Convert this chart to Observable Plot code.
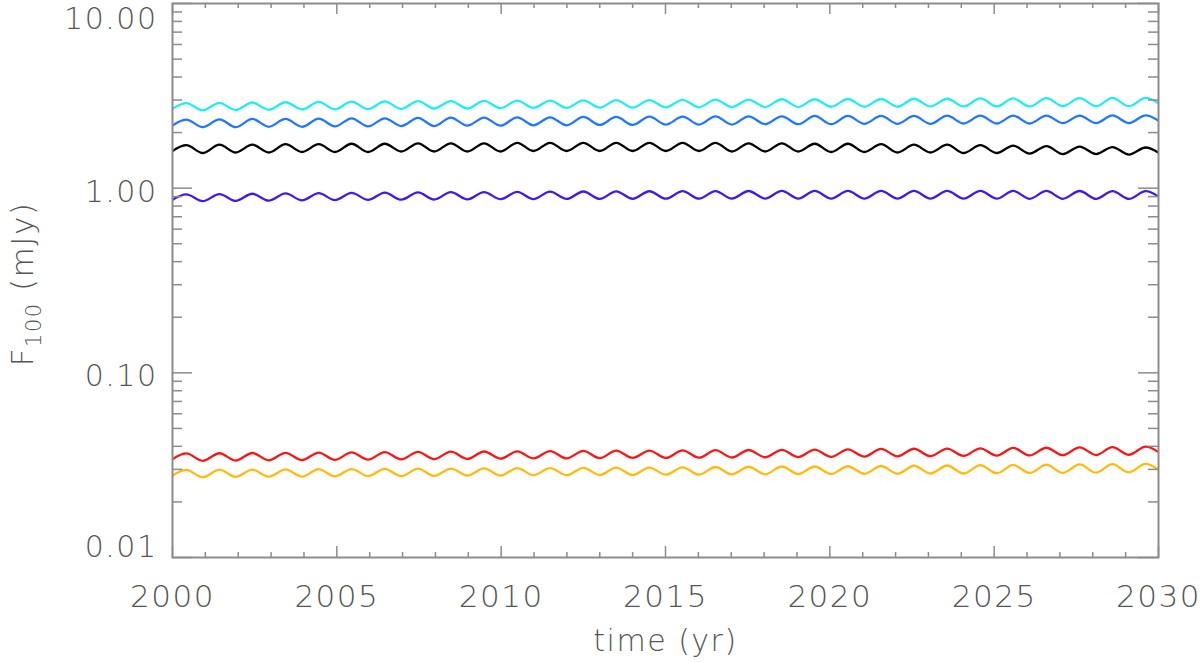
<!DOCTYPE html>
<html>
<head>
<meta charset="utf-8">
<script src="https://cdn.jsdelivr.net/npm/d3@7"></script>
<script src="https://cdn.jsdelivr.net/npm/@observablehq/plot@0.6"></script>
<style>
  html, body { margin: 0; padding: 0; background: #fff; }
</style>
</head>
<body>
<div id="chart"></div>
<script>
// ---- data (flux at successive troughs / peaks) ----
const troughTimes = [1999.91, 2000.92, 2001.92, 2002.93, 2003.94, 2004.94, 2005.95, 2006.96, 2007.96, 2008.97, 2009.98, 2010.98, 2011.99, 2013.00, 2014.00, 2015.01, 2016.02, 2017.02, 2018.03, 2019.04, 2020.04, 2021.05, 2022.06, 2023.06, 2024.07, 2025.08, 2026.08, 2027.09, 2028.10, 2029.10, 2030.11];
const peakTimes = [2000.42, 2001.43, 2002.43, 2003.44, 2004.45, 2005.45, 2006.46, 2007.47, 2008.47, 2009.48, 2010.49, 2011.49, 2012.50, 2013.50, 2014.51, 2015.52, 2016.52, 2017.53, 2018.54, 2019.54, 2020.55, 2021.56, 2022.56, 2023.57, 2024.58, 2025.58, 2026.59, 2027.60, 2028.60, 2029.61];

const cyanTroughs = [2.63, 2.64, 2.65, 2.66, 2.67, 2.67, 2.68, 2.69, 2.70, 2.70, 2.71, 2.72, 2.72, 2.73, 2.73, 2.74, 2.74, 2.75, 2.75, 2.75, 2.76, 2.76, 2.76, 2.77, 2.77, 2.77, 2.77, 2.78, 2.78, 2.78, 2.78];
const cyanPeaks = [2.89, 2.90, 2.91, 2.92, 2.93, 2.94, 2.95, 2.96, 2.96, 2.97, 2.98, 2.98, 2.99, 3.00, 3.00, 3.01, 3.02, 3.02, 3.03, 3.03, 3.04, 3.04, 3.05, 3.05, 3.06, 3.06, 3.07, 3.07, 3.08, 3.08];

const blueTroughs = [2.13, 2.14, 2.14, 2.15, 2.15, 2.16, 2.16, 2.17, 2.17, 2.18, 2.18, 2.19, 2.19, 2.20, 2.20, 2.21, 2.21, 2.21, 2.22, 2.22, 2.22, 2.23, 2.23, 2.23, 2.24, 2.24, 2.24, 2.25, 2.25, 2.25, 2.25];
const bluePeaks = [2.35, 2.36, 2.37, 2.37, 2.38, 2.39, 2.39, 2.40, 2.41, 2.41, 2.42, 2.42, 2.43, 2.43, 2.44, 2.44, 2.45, 2.45, 2.45, 2.46, 2.46, 2.46, 2.46, 2.47, 2.47, 2.47, 2.47, 2.47, 2.48, 2.48];

const blackTroughs = [1.55, 1.55, 1.56, 1.56, 1.57, 1.57, 1.57, 1.58, 1.58, 1.58, 1.58, 1.59, 1.59, 1.59, 1.59, 1.59, 1.59, 1.58, 1.58, 1.58, 1.57, 1.57, 1.56, 1.56, 1.55, 1.55, 1.54, 1.53, 1.53, 1.52, 1.51];
const blackPeaks = [1.71, 1.72, 1.72, 1.73, 1.73, 1.74, 1.74, 1.75, 1.75, 1.75, 1.76, 1.76, 1.76, 1.76, 1.76, 1.76, 1.76, 1.75, 1.75, 1.74, 1.74, 1.73, 1.72, 1.72, 1.71, 1.70, 1.69, 1.68, 1.67, 1.66];

const indigoTroughs = [0.845, 0.850, 0.853, 0.856, 0.859, 0.862, 0.864, 0.866, 0.868, 0.870, 0.872, 0.873, 0.874, 0.875, 0.876, 0.877, 0.877, 0.878, 0.878, 0.878, 0.878, 0.878, 0.878, 0.878, 0.877, 0.877, 0.876, 0.876, 0.875, 0.874, 0.873];
const indigoPeaks = [0.925, 0.929, 0.933, 0.937, 0.940, 0.943, 0.946, 0.949, 0.951, 0.953, 0.955, 0.957, 0.959, 0.961, 0.962, 0.963, 0.964, 0.965, 0.966, 0.966, 0.967, 0.967, 0.967, 0.967, 0.967, 0.966, 0.966, 0.965, 0.964, 0.963];

const redTroughs = [0.0332, 0.0334, 0.0335, 0.0336, 0.0337, 0.0338, 0.0339, 0.0340, 0.0341, 0.0342, 0.0343, 0.0344, 0.0344, 0.0345, 0.0346, 0.0346, 0.0347, 0.0348, 0.0349, 0.0350, 0.0351, 0.0352, 0.0353, 0.0354, 0.0355, 0.0356, 0.0357, 0.0358, 0.0359, 0.0360, 0.0361];
const redPeaks = [0.0366, 0.0367, 0.0368, 0.0369, 0.0370, 0.0371, 0.0372, 0.0373, 0.0374, 0.0375, 0.0376, 0.0377, 0.0378, 0.0379, 0.0379, 0.0380, 0.0381, 0.0382, 0.0383, 0.0384, 0.0385, 0.0387, 0.0388, 0.0389, 0.0390, 0.0392, 0.0393, 0.0395, 0.0396, 0.0398];

const orangeTroughs = [0.0271, 0.0272, 0.0273, 0.0274, 0.0274, 0.0275, 0.0276, 0.0276, 0.0277, 0.0278, 0.0278, 0.0279, 0.0279, 0.0280, 0.0280, 0.0281, 0.0281, 0.0282, 0.0282, 0.0283, 0.0283, 0.0284, 0.0284, 0.0285, 0.0285, 0.0286, 0.0287, 0.0287, 0.0288, 0.0289, 0.0289];
const orangePeaks = [0.0298, 0.0299, 0.0299, 0.0300, 0.0301, 0.0301, 0.0302, 0.0303, 0.0303, 0.0304, 0.0305, 0.0305, 0.0306, 0.0307, 0.0307, 0.0308, 0.0309, 0.0310, 0.0311, 0.0311, 0.0312, 0.0313, 0.0314, 0.0315, 0.0316, 0.0317, 0.0318, 0.0319, 0.0320, 0.0321];

const seriesNames = ["cyan", "blue", "black", "indigo", "red", "orange"];
const seriesColors = ["#22ecf4", "#2277ff", "#000000", "#4418e6", "#f51818", "#ffbb10"];

const yMajorTicks = [0.01, 0.1, 1, 10];
const yMinorTicks = [0.02, 0.03, 0.04, 0.05, 0.06, 0.07, 0.08, 0.09, 0.2, 0.3, 0.4, 0.5, 0.6, 0.7, 0.8, 0.9, 2, 3, 4, 5, 6, 7, 8, 9];
const xMajorTicks = [2000, 2005, 2010, 2015, 2020, 2025, 2030];
const xMinorTicks = d3.range(2000, 2031).filter(d => d % 5 !== 0);

// ---- build table ----
const seriesTroughs = [cyanTroughs, blueTroughs, blackTroughs, indigoTroughs, redTroughs, orangeTroughs];
const seriesPeaks = [cyanPeaks, bluePeaks, blackPeaks, indigoPeaks, redPeaks, orangePeaks];
const tables = seriesNames.map((name, s) => {
  const tr = seriesTroughs[s], pk = seriesPeaks[s];
  const rows = [];
  for (let i = 0; i < troughTimes.length; i++) {
    rows.push({series: name, t: troughTimes[i], v: tr[i]});
    if (i < peakTimes.length) rows.push({series: name, t: peakTimes[i], v: pk[i]});
  }
  return rows;
});

const W = 1200, H = 663;
const mL = 172, mR = 42, mT = 3, mB = 106;
const fw = W - mL - mR, fh = H - mT - mB;
const axisCol = "#8c8c8c";
const textCol = "#555555";
const font = "DejaVu Sans";
const textStyle = {fontSize: 30, fill: textCol, fontWeight: 300, letterSpacing: "1.5px"};

const svg = Plot.plot({
  width: W, height: H,
  marginLeft: mL, marginRight: mR, marginTop: mT, marginBottom: mB,
  style: {fontFamily: font, fontSize: "30px", background: "#fff", color: textCol, letterSpacing: "1.5px", fontWeight: 300},
  x: {domain: [2000, 2030], axis: null},
  y: {type: "log", domain: [0.01, 10], axis: null},
  marks: [
    ...tables.map((rows, s) => Plot.line(rows, {x: "t", y: "v", stroke: seriesColors[s], strokeWidth: 2.3, curve: "monotone-x", clip: true})),
    // ticks (inward, all four sides)
    Plot.tickX(xMinorTicks, {x: d => d, stroke: axisCol, strokeWidth: 1.5, insetTop: fh - 5}),
    Plot.tickX(xMajorTicks, {x: d => d, stroke: axisCol, strokeWidth: 1.5, insetTop: fh - 11}),
    Plot.tickX(xMinorTicks, {x: d => d, stroke: axisCol, strokeWidth: 1.5, insetBottom: fh - 5}),
    Plot.tickX(xMajorTicks, {x: d => d, stroke: axisCol, strokeWidth: 1.5, insetBottom: fh - 11}),
    Plot.tickY(yMinorTicks, {y: d => d, stroke: axisCol, strokeWidth: 1.5, insetRight: fw - 10}),
    Plot.tickY(yMajorTicks, {y: d => d, stroke: axisCol, strokeWidth: 1.5, insetRight: fw - 20}),
    Plot.tickY(yMinorTicks, {y: d => d, stroke: axisCol, strokeWidth: 1.5, insetLeft: fw - 10}),
    Plot.tickY(yMajorTicks, {y: d => d, stroke: axisCol, strokeWidth: 1.5, insetLeft: fw - 20}),
    Plot.frame({stroke: axisCol, strokeWidth: 2}),
    // tick labels
    Plot.axisY([10], {anchor: "left", tickSize: 0, tickPadding: 15, tickFormat: d3.format(".2f"), dy: 16, ...textStyle, label: null}),
    Plot.axisY([1, 0.1], {anchor: "left", tickSize: 0, tickPadding: 15, tickFormat: d3.format(".2f"), dy: 4, ...textStyle, label: null}),
    Plot.axisY([0.01], {anchor: "left", tickSize: 0, tickPadding: 15, tickFormat: d3.format(".2f"), dy: -10, ...textStyle, label: null}),
    Plot.axisX(xMajorTicks, {anchor: "bottom", tickSize: 0, tickPadding: 27, tickFormat: d3.format("d"), ...textStyle, fontSize: 31, label: null}),
    Plot.text(["time (yr)"], {text: d => d, frameAnchor: "bottom", dy: 93, ...textStyle})
  ]
});

// rotated y-axis label with subscript
const g = d3.select(svg).append("text")
  .attr("transform", `translate(33, ${mT + fh / 2 + 4}) rotate(-90)`)
  .attr("text-anchor", "middle")
  .attr("fill", textCol)
  .style("font-family", font)
  .style("font-weight", 300)
  .style("letter-spacing", "1.5px")
  .style("font-size", "31px");
g.append("tspan").text("F");
g.append("tspan").attr("font-size", "21px").attr("dy", "8").text("100");
g.append("tspan").attr("dy", "-8").text(" (mJy)");

document.getElementById("chart").appendChild(svg);
</script>
</body>
</html>
